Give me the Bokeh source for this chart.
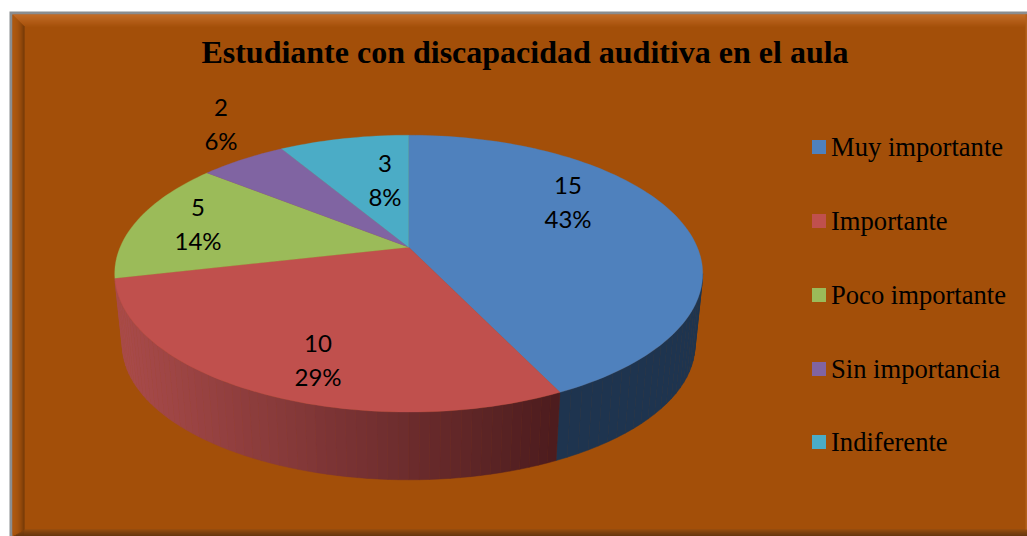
import math
from bokeh.plotting import figure
from bokeh.embed import file_html
from bokeh.resources import INLINE
from bokeh.core.properties import value

# ---- data ----
categories = ["Muy importante", "Importante", "Poco importante", "Sin importancia", "Indiferente"]
values = [15, 10, 5, 2, 3]
count_labels = ["15", "10", "5", "2", "3"]
pct_labels = ["43%", "29%", "14%", "6%", "8%"]
title = "Estudiante con discapacidad auditiva en el aula"

# ---- style / layout (reference pixel coordinates) ----
colors = ["#4f81bd", "#c0504d", "#9bbb59", "#8064a2", "#4bacc6"]
label_x = [567.5, 317.5, 197.5, 220.5, 384.5]
label_y1 = [185, 343, 207, 107, 163]
label_y2 = [218, 376, 240, 140, 196]
legend_y = [146.5, 220.5, 294.5, 368.5, 441.5]
BG = "#a34f09"
L, T, R, B = 0, 0, 1027, 536
CX, CY, A_Y, B_X, PERSP = 408.2, 246.7, 133.4, 288.6, 0.191
DEPTH_SCALE, DEPTH = 0.974, 72


def top_pt(deg):
    t = math.radians(deg)
    x, y = math.sin(t), math.cos(t)
    w = 1 + PERSP * y
    return CX + B_X * x / w, CY - A_Y * y / w


def bottom_pt(deg):
    x, y = top_pt(deg)
    return CX + DEPTH_SCALE * (x - CX), CY + DEPTH_SCALE * (y - CY) + DEPTH


def mix(c1, c2, f):
    a = [int(c1[i:i + 2], 16) for i in (1, 3, 5)]
    b = [int(c2[i:i + 2], 16) for i in (1, 3, 5)]
    return "#%02x%02x%02x" % tuple(round(p + (q - p) * f) for p, q in zip(a, b))


p = figure(width=R - L, height=B - T, x_range=(L, R), y_range=(B, T),
           toolbar_location=None, output_backend="svg", min_border=0,
           outline_line_color=None, background_fill_color="white", border_fill_color="white")
p.xaxis.visible = False
p.yaxis.visible = False
p.grid.visible = False

# ---- frame ----
p.quad(left=[9], right=[R], top=[11], bottom=[B], color="#8a8d90", line_color=None)
p.quad(left=[12], right=[R], top=[14], bottom=[B], color=BG, line_color=None)
bevel = 12
for i in range(bevel):
    f = i / (bevel - 1)
    # top
    p.patch([12 + i, R - i * 0.2, R - i * 0.2 - 0.2, 12 + i + 1], [14 + i, 14 + i, 15 + i, 15 + i],
            color=mix("#cc7632", "#a8540e", f), line_color=None)
    # left
    p.patch([12 + i, 13 + i, 13 + i, 12 + i], [14 + i, 15 + i, B - 7, B],
            color=mix("#b15c12", "#6d3608", f ** 2), line_color=None)
for i in range(7):
    f = i / 6
    p.quad(left=[12 + 12 - i * 12 / 7], right=[R], top=[B - 7 + i], bottom=[B - 6 + i],
           color=mix("#8a4a12", "#54300f", f), line_color=None)
p.quad(left=[R - 2], right=[R], top=[14], bottom=[B - 7], color="#b2601a", line_color=None)

# ---- pie ----
total = sum(values)
edges = [0.0]
for v in values:
    edges.append(edges[-1] + 360.0 * v / total)

# side: blue (visible from its right-hand tangent to its end), then red with a gradient
blue_start = math.degrees(math.acos(-PERSP))
steps = 24
for i in range(steps):
    a0 = blue_start + (edges[1] - blue_start) * i / steps
    a1 = blue_start + (edges[1] - blue_start) * (i + 1) / steps
    pts = [top_pt(a0), top_pt(a1), bottom_pt(a1), bottom_pt(a0)]
    p.patch([q[0] for q in pts], [q[1] for q in pts], fill_color="#1e344f",
            line_color="#1e344f", line_width=0.5)
steps = 60
x_dark = bottom_pt(edges[1])[0]
x_light = top_pt(edges[2])[0]
for i in range(steps):
    a0 = edges[1] + (edges[2] - edges[1]) * i / steps
    a1 = edges[1] + (edges[2] - edges[1]) * (i + 1) / steps
    xm = bottom_pt((a0 + a1) / 2)[0]
    f = min(1.0, max(0.0, (x_dark - xm) / (x_dark - x_light)))
    c = mix("#4c1c1e", "#ab4c4b", f)
    pts = [top_pt(a0), top_pt(a1), bottom_pt(a1), bottom_pt(a0)]
    p.patch([q[0] for q in pts], [q[1] for q in pts], fill_color=c, line_color=c, line_width=0.5)

# top face
for i, col in enumerate(colors):
    n = max(4, int((edges[i + 1] - edges[i]) / 1.5))
    pts = [(CX, CY)] + [top_pt(edges[i] + (edges[i + 1] - edges[i]) * k / n) for k in range(n + 1)]
    p.patch([q[0] for q in pts], [q[1] for q in pts], fill_color=col, line_color=col, line_width=0.3)

# ---- texts ----
serif = value("Liberation Serif")
p.text(x=[524.5], y=[51.5], text=[title], text_font=serif, text_font_size="32px",
       text_font_style="bold", text_color="#000000", text_align="center", text_baseline="middle")
lato = value("Lato")
p.text(x=label_x, y=label_y1, text=count_labels, text_font=lato, text_font_size="24px",
       text_color="#000000", text_align="center", text_baseline="middle")
p.text(x=label_x, y=label_y2, text=pct_labels, text_font=lato, text_font_size="24px",
       text_color="#000000", text_align="center", text_baseline="middle")

p.quad(left=[811.5] * 5, right=[825.5] * 5, top=[y - 7 for y in legend_y], bottom=[y + 7 for y in legend_y],
       color=colors, line_color=None)
p.text(x=[830.5] * 5, y=legend_y, text=categories, text_font=serif, text_font_size="26.6px",
       text_color="#000000", text_align="left", text_baseline="middle")

open("out.html", "w").write(file_html(p, INLINE))
